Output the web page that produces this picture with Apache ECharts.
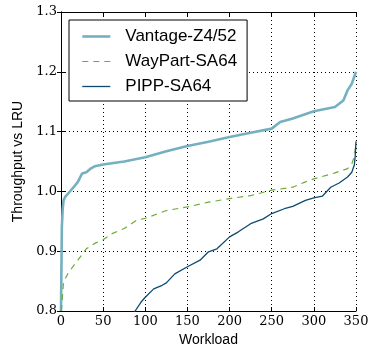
<!DOCTYPE html>
<html>
<head>
<meta charset="utf-8">
<script src="https://cdn.jsdelivr.net/npm/echarts@6/dist/echarts.min.js"></script>
<style>
  html, body { margin: 0; padding: 0; background: #fff; }
  #main { width: 372px; height: 348px; }
</style>
</head>
<body>
<div id="main"></div>
<script>
// workload index (sorted) and throughput vs LRU
var vantageX = [0, 1, 2, 3, 5, 10, 15, 20, 25, 30, 35, 40, 50, 75, 100, 125, 150, 175, 200, 225, 250, 260, 275, 300, 325, 335, 340, 345, 350];
var vantageY = [0.80, 0.94, 0.97, 0.985, 0.991, 0.999, 1.007, 1.016, 1.030, 1.032, 1.038, 1.042, 1.045, 1.050, 1.057, 1.067, 1.076, 1.083, 1.091, 1.098, 1.105, 1.116, 1.122, 1.134, 1.141, 1.152, 1.169, 1.180, 1.200];

var waypartX = [0, 1, 2, 3, 5, 8, 15, 20, 30, 40, 50, 60, 75, 90, 100, 125, 150, 175, 200, 225, 250, 275, 290, 300, 325, 340, 345, 348, 350];
var waypartY = [0.80, 0.81, 0.83, 0.849, 0.854, 0.862, 0.876, 0.885, 0.904, 0.913, 0.919, 0.929, 0.938, 0.952, 0.955, 0.968, 0.974, 0.982, 0.988, 0.993, 1.002, 1.007, 1.016, 1.021, 1.031, 1.038, 1.046, 1.058, 1.080];

var pippX = [0, 40, 70, 88, 95, 100, 110, 120, 125, 135, 150, 165, 175, 185, 200, 210, 225, 240, 250, 265, 275, 290, 300, 310, 320, 330, 340, 345, 348, 349, 350];
var pippY = [0.55, 0.70, 0.77, 0.800, 0.815, 0.823, 0.837, 0.843, 0.847, 0.862, 0.874, 0.885, 0.899, 0.904, 0.924, 0.932, 0.946, 0.954, 0.963, 0.971, 0.975, 0.985, 0.989, 0.992, 1.007, 1.014, 1.024, 1.032, 1.044, 1.058, 1.084];

var xTicks = [0, 50, 100, 150, 200, 250, 300, 350];
var yTicks = [0.8, 0.9, 1.0, 1.1, 1.2, 1.3];

function pairs(xs, ys) {
  return xs.map(function (x, i) { return [x, ys[i]]; });
}

var serif = '"DejaVu Serif", "Liberation Serif", serif';
var sans = '"Liberation Sans", Arial, sans-serif';

var chart = echarts.init(document.getElementById('main'));

var tickCommon = { show: true, inside: true, length: 4, lineStyle: { color: '#000', width: 1 } };
var lineCommon = { show: true, lineStyle: { color: '#000', width: 1 } };

chart.setOption({
  animation: false,
  grid: { left: 61, right: 16, top: 12, bottom: 37, outerBoundsMode: 'none', containLabel: false },
  legend: {
    left: 69, top: 20,
    orient: 'vertical',
    itemWidth: 28, itemHeight: 14, itemGap: 8,
    padding: [8, 10, 6, 12],
    borderColor: '#000', borderWidth: 1, borderRadius: 0,
    backgroundColor: '#fff',
    itemStyle: { opacity: 0 },
    textStyle: { fontFamily: sans, fontSize: 17, color: '#000', padding: [0, 0, 0, 10] },
    data: [
      { name: 'Vantage-Z4/52', lineStyle: { width: 2.6 } },
      { name: 'WayPart-SA64', lineStyle: { width: 1.2 } },
      { name: 'PIPP-SA64', lineStyle: { width: 1.3 } }
    ]
  },
  xAxis: [{
    type: 'value', min: 0, max: 350, interval: 50,
    name: 'Workload', nameLocation: 'middle', nameGap: 19,
    nameTextStyle: { fontFamily: sans, fontSize: 14, color: '#000' },
    axisLine: lineCommon, axisTick: tickCommon,
    axisLabel: { fontFamily: serif, fontSize: 13, color: '#000', margin: 4,
      formatter: function (v) { return xTicks.indexOf(v) >= 0 ? String(v) : ''; } },
    splitLine: { show: true, lineStyle: { color: '#000', type: [1, 3], width: 1 } }
  }, {
    type: 'value', min: 0, max: 350, interval: 50, position: 'top',
    axisLine: lineCommon, axisTick: tickCommon, axisLabel: { show: false }, splitLine: { show: false }
  }],
  yAxis: [{
    type: 'value', min: 0.8, max: 1.3, interval: 0.1,
    name: 'Throughput vs LRU', nameLocation: 'middle', nameGap: 28,
    nameTextStyle: { fontFamily: sans, fontSize: 14, color: '#000' },
    axisLine: lineCommon, axisTick: tickCommon,
    axisLabel: { fontFamily: serif, fontSize: 13, color: '#000', margin: 4,
      formatter: function (v) { return v.toFixed(1); } },
    splitLine: { show: true, lineStyle: { color: '#000', type: [1, 3], width: 1 } }
  }, {
    type: 'value', min: 0.8, max: 1.3, interval: 0.1, position: 'right',
    axisLine: lineCommon, axisTick: tickCommon, axisLabel: { show: false }, splitLine: { show: false }
  }],
  series: [{
    name: 'Vantage-Z4/52', type: 'line', symbol: 'none', clip: true,
    data: pairs(vantageX, vantageY),
    lineStyle: { color: '#74b0bf', width: 2.6 }, itemStyle: { color: '#74b0bf' }
  }, {
    name: 'WayPart-SA64', type: 'line', symbol: 'none', clip: true,
    data: pairs(waypartX, waypartY),
    lineStyle: { color: '#6aac35', width: 1.2, type: [6, 5] }, itemStyle: { color: '#6aac35' }
  }, {
    name: 'PIPP-SA64', type: 'line', symbol: 'none', clip: true,
    data: pairs(pippX, pippY),
    lineStyle: { color: '#0d4a70', width: 1.3 }, itemStyle: { color: '#0d4a70' }
  }]
});
</script>
</body>
</html>
